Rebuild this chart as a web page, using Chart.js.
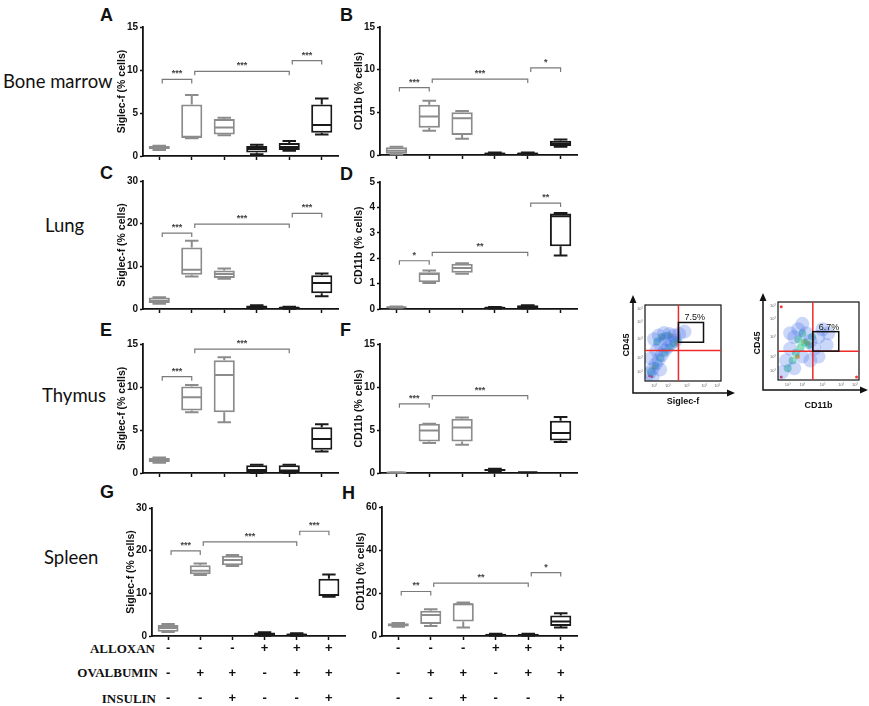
<!DOCTYPE html>
<html>
<head>
<meta charset="utf-8">
<script src="https://cdn.jsdelivr.net/npm/chart.js@4.4.1/dist/chart.umd.min.js"></script>
<style>
body{margin:0;background:#fff;width:869px;height:706px;position:relative;overflow:hidden;font-family:"Liberation Sans",Arial,sans-serif;}
canvas{position:absolute;}
.lbl{position:absolute;white-space:nowrap;color:#111;}
.organ{font-family:Lato,"Open Sans",sans-serif;font-size:18.5px;transform:translateY(-50%);}
.letter{font-weight:bold;font-size:18px;transform:translateY(-50%);}
.row{font-family:"Liberation Serif",serif;font-weight:bold;font-size:13px;transform:translate(-100%,-50%);}
</style>
</head>
<body>
<div class="lbl organ" style="left:3px;top:81px">Bone marrow</div>
<div class="lbl organ" style="left:45px;top:225px">Lung</div>
<div class="lbl organ" style="left:42px;top:395px">Thymus</div>
<div class="lbl organ" style="left:44px;top:557px">Spleen</div>

<div class="lbl letter" style="left:100px;top:15px">A</div>
<div class="lbl letter" style="left:340px;top:15px">B</div>
<div class="lbl letter" style="left:100px;top:173px">C</div>
<div class="lbl letter" style="left:340px;top:174px">D</div>
<div class="lbl letter" style="left:100px;top:330px">E</div>
<div class="lbl letter" style="left:340px;top:330px">F</div>
<div class="lbl letter" style="left:100px;top:492px">G</div>
<div class="lbl letter" style="left:342px;top:493px">H</div>

<div class="lbl row" style="left:155px;top:649px">ALLOXAN</div>
<div class="lbl row" style="left:158px;top:673px">OVALBUMIN</div>
<div class="lbl row" style="left:156px;top:699px">INSULIN</div>

<script>
// groups: alloxan / ovalbumin / insulin
const groups = [
  ["-","-","-"],
  ["-","+","-"],
  ["-","+","+"],
  ["+","-","-"],
  ["+","+","-"],
  ["+","+","+"]
];

// min, q1, median, q3, max
const boneSiglec = [[0.7,0.8,1.0,1.15,1.2],[2.05,2.1,2.25,6.0,7.1],[2.4,2.5,3.3,4.3,4.45],[0.2,0.4,0.8,1.15,1.3],[0.6,0.7,1.05,1.5,1.75],[2.5,2.7,3.6,6.0,6.7]];
const boneCd11b = [[0.1,0.15,0.5,0.9,0.97],[2.85,3.2,4.5,5.9,6.35],[1.9,2.35,4.3,5.0,5.15],[0.05,0.05,0.15,0.3,0.3],[0.05,0.05,0.15,0.3,0.3],[0.97,1.05,1.36,1.67,1.83]];
const lungSiglec = [[1.25,1.4,1.95,2.7,2.75],[7.6,8.0,9.2,14.4,16.0],[7.1,7.25,8.2,9.0,9.5],[0.05,0.1,0.4,0.8,0.85],[0.05,0.1,0.3,0.5,0.55],[3.0,3.7,6.1,7.9,8.3]];
const lungCd11b = [[0.05,0.05,0.07,0.1,0.1],[1.02,1.05,1.38,1.45,1.52],[1.39,1.43,1.61,1.78,1.8],[0.02,0.02,0.05,0.08,0.08],[0.02,0.03,0.08,0.15,0.15],[2.11,2.47,3.65,3.76,3.78]];
const thymusSiglec = [[1.2,1.24,1.5,1.74,1.8],[7.07,7.27,8.8,10.05,10.24],[5.9,7.07,11.4,13.1,13.45],[0,0.05,0.35,0.9,0.97],[0,0.05,0.3,0.9,0.97],[2.5,2.7,3.94,5.33,5.68]];
const thymusCd11b = [[0.02,0.03,0.05,0.08,0.1],[3.48,3.67,4.95,5.72,5.72],[3.28,3.67,5.3,6.3,6.45],[0.15,0.19,0.35,0.46,0.5],[0.05,0.05,0.08,0.1,0.1],[3.6,3.79,4.64,6.07,6.5]];
const spleenSiglec = [[0.93,1.01,1.87,2.57,2.8],[14.3,14.5,15.28,16.6,17.0],[16.4,16.6,17.8,18.8,19.0],[0.05,0.1,0.4,0.8,0.85],[0.05,0.1,0.3,0.6,0.65],[9.2,9.35,9.6,13.4,14.4]];
const spleenCd11b = [[4.35,4.4,5.1,5.9,6.0],[4.67,5.6,9.8,11.7,12.4],[4.0,6.7,14.8,15.2,15.55],[0.1,0.2,0.5,1.0,1.1],[0.1,0.2,0.5,1.0,1.1],[3.9,4.67,6.7,9.5,10.6]];

// significance brackets: from group, to group, level, stars
const boneSiglecSig = [[0,1,8.9,"***"],[1,4,9.85,"***"],[4,5,11.1,"***"]];
const boneCd11bSig = [[0,1,7.9,"***"],[1,4,8.9,"***"],[4,5,10.2,"*"]];
const lungSiglecSig = [[0,1,17.8,"***"],[1,4,19.9,"***"],[4,5,22.4,"***"]];
const lungCd11bSig = [[0,1,1.9,"*"],[1,4,2.23,"**"],[4,5,4.17,"**"]];
const thymusSiglecSig = [[0,1,11.2,"***"],[1,4,14.4,"***"]];
const thymusCd11bSig = [[0,1,8.04,"***"],[1,4,9.0,"***"]];
const spleenSiglecSig = [[0,1,19.95,"***"],[1,4,22.06,"***"],[4,5,24.55,"***"]];
const spleenCd11bSig = [[0,1,20.7,"**"],[1,4,24.6,"**"],[4,5,29.5,"*"]];

// y tick labels
const ticks15 = [0,5,10,15];
const ticks30 = [0,10,20,30];
const ticks5 = [0,1,2,3,4,5];
const ticks60 = [0,20,40,60];

// flow cytometry dots (x, y on 0-100 display)
const siglecHalo = [[6,10],[10,16],[14,22],[18,28],[22,34],[26,40],[30,45],[35,50],[40,53],[12,55],[18,60],[25,63],[32,62],[38,60],[45,62],[52,65],[8,30],[15,40],[20,48],[28,55],[10,5],[20,15]];
const siglecMid = [[8,12],[14,20],[20,30],[26,38],[32,44],[38,50],[22,58],[30,60],[16,52],[42,54]];
const siglecCore = [[23,58],[34,60],[41,50],[12,18]];
const siglecRed = [[6,7],[9,6]];
const cd11bHalo = [[5,10],[10,25],[15,40],[20,55],[25,65],[30,72],[35,60],[40,50],[45,40],[50,55],[55,65],[60,45],[20,15],[30,30],[40,25],[15,60],[50,30],[62,60]];
const cd11bMid = [[12,15],[18,25],[22,35],[28,42],[33,48],[38,45],[25,52],[42,55],[30,60]];
const cd11bCore = [[33,49],[37,47],[24,30]];
const cd11bRed = [[4,94],[4,4],[97,4]];


const GRAY = "#8c8c8c";
const DARK = "#1a1a1a";
const boxColors = [GRAY,GRAY,GRAY,DARK,DARK,DARK];
const axisFont = {family: "'Liberation Sans', Arial", size: 10, weight: "bold"};

const boxPlot = {
  id: "boxPlot",
  afterDatasetsDraw(chart, args, opts) {
    const ctx = chart.ctx;
    const ys = chart.scales.y;
    const xs = chart.scales.x;
    const meta = chart.getDatasetMeta(0);

    opts.rows.forEach(function(r, i){
      const bar = meta.data[i];
      const cx = bar.x;
      const w = bar.width;
      ctx.save();
      ctx.strokeStyle = boxColors[i];
      ctx.lineWidth = 2;
      ctx.beginPath();
      const yMed = ys.getPixelForValue(r[2]);
      ctx.moveTo(cx - w / 2 + 1, yMed);
      ctx.lineTo(cx + w / 2 - 1, yMed);
      const yMax = ys.getPixelForValue(r[4]);
      const yQ3 = ys.getPixelForValue(r[3]);
      if (yQ3 - yMax > 1) {
        ctx.moveTo(cx, yQ3);
        ctx.lineTo(cx, yMax);
      }
      ctx.moveTo(cx - w * 0.32, yMax);
      ctx.lineTo(cx + w * 0.32, yMax);
      const yMin = ys.getPixelForValue(r[0]);
      const yQ1 = ys.getPixelForValue(r[1]);
      if (yMin - yQ1 > 1) {
        ctx.moveTo(cx, yQ1);
        ctx.lineTo(cx, yMin);
      }
      ctx.moveTo(cx - w * 0.32, yMin);
      ctx.lineTo(cx + w * 0.32, yMin);
      ctx.stroke();
      ctx.restore();
    });

    // brackets
    ctx.save();
    ctx.strokeStyle = "#7a7a7a";
    ctx.fillStyle = "#444";
    ctx.lineWidth = 1.2;
    ctx.font = "bold 9px 'Liberation Sans', Arial";
    ctx.textAlign = "center";
    ctx.textBaseline = "bottom";
    opts.sig.forEach(function(s){
      const x1 = xs.getPixelForValue(s[0]) + 3;
      const x2 = xs.getPixelForValue(s[1]);
      const y = ys.getPixelForValue(s[2]);
      ctx.beginPath();
      ctx.moveTo(x1, y + 4);
      ctx.lineTo(x1, y);
      ctx.lineTo(x2, y);
      ctx.lineTo(x2, y + 4);
      ctx.stroke();
      ctx.fillText(s[3], (x1 + x2) / 2, y - 1);
    });
    ctx.restore();
  }
};

const panels = [
  {rows: boneSiglec, sig: boneSiglecSig, ticks: ticks15, title: "Siglec-f (% cells)", left: 143, top: 27, right: 338, bottom: 156, last: false},
  {rows: boneCd11b, sig: boneCd11bSig, ticks: ticks15, title: "CD11b (% cells)", left: 380, top: 27, right: 577, bottom: 155, last: false},
  {rows: lungSiglec, sig: lungSiglecSig, ticks: ticks30, title: "Siglec-f (% cells)", left: 143, top: 181, right: 338, bottom: 309, last: false},
  {rows: lungCd11b, sig: lungCd11bSig, ticks: ticks5, title: "CD11b (% cells)", left: 380, top: 182, right: 577, bottom: 309, last: false},
  {rows: thymusSiglec, sig: thymusSiglecSig, ticks: ticks15, title: "Siglec-f (% cells)", left: 143, top: 344, right: 338, bottom: 473, last: false},
  {rows: thymusCd11b, sig: thymusCd11bSig, ticks: ticks15, title: "CD11b (% cells)", left: 380, top: 344, right: 577, bottom: 473, last: false},
  {rows: spleenSiglec, sig: spleenSiglecSig, ticks: ticks30, title: "Siglec-f (% cells)", left: 152, top: 508, right: 345, bottom: 636, last: true},
  {rows: spleenCd11b, sig: spleenCd11bSig, ticks: ticks60, title: "CD11b (% cells)", left: 382, top: 507, right: 577, bottom: 636, last: true}
];

panels.forEach(function(p){
  const xh = p.last ? 70 : 8;
  const cv = document.createElement("canvas");
  const w = p.right - p.left + 34;
  const h = p.bottom - p.top + 8 + xh;
  cv.width = w;
  cv.height = h;
  cv.style.left = (p.left - 30) + "px";
  cv.style.top = (p.top - 8) + "px";
  cv.style.width = w + "px";
  cv.style.height = h + "px";
  document.body.appendChild(cv);

  new Chart(cv, {
    type: "bar",
    data: {
      labels: groups,
      datasets: [{
        data: p.rows.map(function(r){ return [r[1], r[3]]; }),
        backgroundColor: "#ffffff",
        borderColor: boxColors,
        borderWidth: 2,
        borderSkipped: false,
        barPercentage: 0.65,
        categoryPercentage: 1
      }]
    },
    options: {
      responsive: false,
      animation: false,
      devicePixelRatio: 1,
      layout: {padding: {left: 2, top: 8, right: 4, bottom: 0}},
      plugins: {
        legend: {display: false},
        tooltip: {enabled: false},
        boxPlot: {rows: p.rows, sig: p.sig}
      },
      scales: {
        x: {
          offset: true,
          grid: {display: true, drawOnChartArea: false, offset: false, tickLength: 4, color: "#111", tickWidth: 1.5},
          border: {display: true, color: "#111", width: 1.8},
          ticks: {
            autoSkip: false,
            maxRotation: 0,
            padding: -4,
            color: "#111",
            font: {family: "'Liberation Sans', Arial", size: 13, weight: "bold", lineHeight: "25px"},
            callback: function(v){ return p.last ? this.getLabelForValue(v) : ""; }
          },
          afterFit: function(s){ s.height = xh; }
        },
        y: {
          min: p.ticks[0],
          max: p.ticks[p.ticks.length - 1],
          afterBuildTicks: function(s){ s.ticks = p.ticks.map(function(v){ return {value: v}; }); },
          grid: {display: true, drawOnChartArea: false, tickLength: 3, color: "#111", tickWidth: 1.5},
          border: {display: true, color: "#111", width: 1.8},
          ticks: {padding: 2, color: "#111", font: axisFont},
          title: {display: true, text: p.title, color: "#111", padding: {top: 1, bottom: 0}, font: {family: "'Liberation Sans', Arial", size: 10.5, weight: "bold"}},
          afterFit: function(s){ s.width = 28; }
        }
      }
    },
    plugins: [boxPlot]
  });
});


// flow cytometry insets
const flowFrame = {
  id: "flowFrame",
  afterDraw(chart, args, o) {
    const ctx = chart.ctx;
    const a = chart.chartArea;
    const xs = chart.scales.x;
    const ys = chart.scales.y;
    ctx.save();
    ctx.strokeStyle = "#111";
    ctx.lineWidth = 1.2;
    ctx.strokeRect(a.left, a.top, a.right - a.left, a.bottom - a.top);

    ctx.strokeStyle = "#ee2b2b";
    ctx.lineWidth = 1.5;
    ctx.beginPath();
    ctx.moveTo(xs.getPixelForValue(o.qx), a.top);
    ctx.lineTo(xs.getPixelForValue(o.qx), a.bottom);
    ctx.moveTo(a.left, ys.getPixelForValue(o.qy));
    ctx.lineTo(a.right, ys.getPixelForValue(o.qy));
    ctx.stroke();

    ctx.strokeStyle = "#111";
    ctx.lineWidth = 1.5;
    const gx = xs.getPixelForValue(o.gate[0]);
    const gy = ys.getPixelForValue(o.gate[3]);
    ctx.strokeRect(gx, gy, xs.getPixelForValue(o.gate[1]) - gx, ys.getPixelForValue(o.gate[2]) - gy);

    ctx.fillStyle = "#111";
    ctx.font = "9px 'Liberation Sans', Arial";
    ctx.textAlign = "left";
    ctx.textBaseline = "bottom";
    ctx.fillText(o.pct, gx + 6, gy);

    // arrow axes
    const ax = a.left - o.dx;
    const ay = a.bottom + o.dy;
    ctx.lineWidth = 1.5;
    ctx.beginPath();
    ctx.moveTo(ax, a.top - o.up + 4);
    ctx.lineTo(ax, ay);
    ctx.lineTo(a.right + o.over - 4, ay);
    ctx.stroke();
    ctx.beginPath();
    ctx.moveTo(ax, a.top - o.up);
    ctx.lineTo(ax - 3.5, a.top - o.up + 8);
    ctx.lineTo(ax + 3.5, a.top - o.up + 8);
    ctx.closePath();
    ctx.moveTo(a.right + o.over, ay);
    ctx.lineTo(a.right + o.over - 8, ay - 3.5);
    ctx.lineTo(a.right + o.over - 8, ay + 3.5);
    ctx.closePath();
    ctx.fill();

    // tiny decade ticks
    ctx.fillStyle = "#666";
    ctx.font = "4px 'Liberation Sans', Arial";
    ctx.textAlign = "center";
    ctx.textBaseline = "middle";
    [0.12, 0.3, 0.55, 0.78, 0.95].forEach(function(f){
      ctx.fillText("10\u00b3", a.left + f * (a.right - a.left), a.bottom + 5);
      ctx.fillText("10\u00b3", a.left - 5, a.bottom - f * (a.bottom - a.top));
    });

    ctx.fillStyle = "#111";
    ctx.font = "bold 9px 'Liberation Sans', Arial";
    ctx.fillText(o.xTitle, (a.left + a.right) / 2, a.bottom + o.xTitleGap);
    ctx.translate(a.left - o.yTitleGap, (a.top + a.bottom) / 2 + 2);
    ctx.rotate(-Math.PI / 2);
    ctx.fillText("CD45", 0, 0);
    ctx.restore();
  }
};

function flowPlot(halo, mid, core, red, pos, opts) {
  const cv = document.createElement("canvas");
  cv.width = pos.w;
  cv.height = pos.h;
  cv.style.left = pos.x + "px";
  cv.style.top = pos.y + "px";
  document.body.appendChild(cv);
  const pts = function(list){ return list.map(function(d){ return {x: d[0], y: d[1]}; }); };
  new Chart(cv, {
    type: "scatter",
    data: {
      datasets: [
        {data: pts(halo), pointRadius: 7, backgroundColor: "rgba(70,110,235,0.28)", borderWidth: 0, clip: 0},
        {data: pts(mid), pointRadius: 4, backgroundColor: "rgba(50,195,140,0.55)", borderWidth: 0, clip: 0},
        {data: pts(core), pointRadius: 2.5, backgroundColor: "rgba(245,170,30,0.9)", borderWidth: 0, clip: 0},
        {data: pts(red), pointRadius: 1.5, backgroundColor: "rgba(235,40,40,0.9)", borderWidth: 0, clip: 0}
      ]
    },
    options: {
      responsive: false,
      animation: false,
      devicePixelRatio: 1,
      layout: {padding: pos.pad},
      plugins: {legend: {display: false}, tooltip: {enabled: false}, flowFrame: opts},
      scales: {
        x: {display: false, min: 0, max: 100},
        y: {display: false, min: 0, max: 100}
      }
    },
    plugins: [flowFrame]
  });
}

flowPlot(siglecHalo, siglecMid, siglecCore, siglecRed,
  {x: 610, y: 285, w: 135, h: 130, pad: {left: 35, top: 20, right: 24, bottom: 34}},
  {qx: 44, qy: 40, gate: [44, 77, 51, 77], pct: "7.5%", dx: 12, dy: 12, up: 10, over: 14, xTitle: "Siglec-f", xTitleGap: 21, yTitleGap: 18});

flowPlot(cd11bHalo, cd11bMid, cd11bCore, cd11bRed,
  {x: 740, y: 285, w: 129, h: 130, pad: {left: 38, top: 17, right: 10, bottom: 35}},
  {qx: 43, qy: 37, gate: [43, 75, 37, 62], pct: "6.7%", dx: 15, dy: 10, up: 9, over: 9, xTitle: "CD11b", xTitleGap: 26, yTitleGap: 20});
</script>
</body>
</html>
